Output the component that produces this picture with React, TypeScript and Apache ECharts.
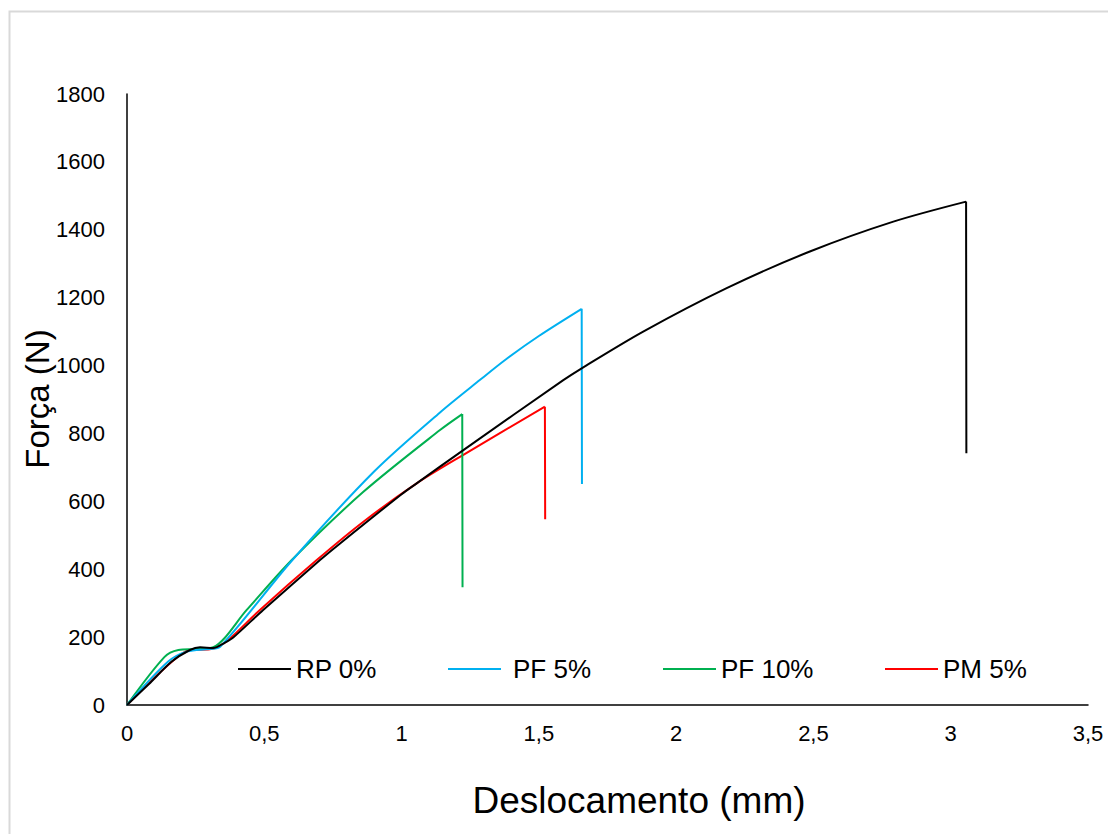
import React, { useEffect, useRef } from "react";
import * as echarts from "echarts";

// RP 0% (black) — last point is the fracture drop
const rpX = [0, 0.08, 0.163, 0.229, 0.266, 0.314, 0.357, 0.387, 0.496, 0.703, 0.776, 1.0, 1.055, 1.225, 1.589, 1.656, 1.88, 2.184, 2.487, 2.791, 3.056, 3.057];
const rpY = [0, 62, 128, 162, 170, 168, 184, 199, 280, 427, 476, 621, 653, 751, 957, 992, 1100, 1228, 1336, 1424, 1483, 742];
// PF 5% (cyan)
const pf5X = [0, 0.15, 0.22, 0.3, 0.34, 0.6, 0.9, 1.14, 1.286, 1.383, 1.5, 1.656, 1.657];
const pf5Y = [0, 128, 158, 165, 172, 425, 688, 862, 958, 1020, 1087, 1167, 651];
// PF 10% (green)
const pf10X = [0, 0.136, 0.187, 0.25, 0.314, 0.436, 0.6, 0.861, 1.14, 1.221, 1.222];
const pf10Y = [0, 141, 162, 165, 170, 280, 427, 628, 810, 857, 347];
// PM 5% (red)
const pm5X = [0, 0.157, 0.229, 0.302, 0.333, 0.375, 0.484, 0.691, 0.861, 1.055, 1.225, 1.522, 1.523];
const pm5Y = [0, 123, 162, 164, 172, 196, 280, 427, 540, 653, 737, 879, 547];

const seriesNames = ["RP 0%", "PF 5%", "PF 10%", "PM 5%"];
const seriesColors = ["#000000", "#00b0f0", "#00b050", "#ff0000"];
const xTickLabels = ["0", "0,5", "1", "1,5", "2", "2,5", "3", "3,5"];
const yTickLabels = ["0", "200", "400", "600", "800", "1000", "1200", "1400", "1600", "1800"];

const FONT = "'Liberation Sans', Arial, sans-serif";

// smooth curve up to the peak, then a break, then a straight vertical drop
function build(xs: number[], ys: number[]) {
  const n = xs.length;
  const pts: any[] = [];
  for (let i = 0; i < n - 1; i++) pts.push([xs[i], ys[i]]);
  pts.push([xs[n - 2], "-"]);
  pts.push([xs[n - 2], ys[n - 2]]);
  pts.push([xs[n - 1], ys[n - 1]]);
  return pts;
}

export default function App() {
  const ref = useRef<HTMLDivElement>(null);
  useEffect(() => {
    if (!ref.current) return;
    const chart = echarts.init(ref.current, null, { renderer: "svg" });
    const allX = [rpX, pf5X, pf10X, pm5X];
    const allY = [rpY, pf5Y, pf10Y, pm5Y];
    const legendLefts = [238, 448, 663, 885];
    const legendPad = [0, 7, 0, 0];
    chart.setOption({
      animation: false,
      backgroundColor: "#ffffff",
      grid: { left: 127, right: 20, top: 94, bottom: 129, containLabel: false },
      xAxis: {
        type: "value",
        min: 0,
        max: 3.5,
        interval: 0.5,
        axisLine: { show: true, lineStyle: { color: "#000", width: 1.5 } },
        axisTick: { show: false },
        splitLine: { show: false },
        axisLabel: {
          color: "#000",
          fontSize: 22,
          fontFamily: FONT,
          margin: 17,
          formatter: (v: number) => xTickLabels[Math.round(v / 0.5)] ?? String(v),
        },
      },
      yAxis: {
        type: "value",
        min: 0,
        max: 1800,
        interval: 200,
        axisLine: { show: true, lineStyle: { color: "#000", width: 1.5 } },
        axisTick: { show: false },
        splitLine: { show: false },
        axisLabel: {
          color: "#000",
          fontSize: 22,
          fontFamily: FONT,
          margin: 22,
          formatter: (v: number) => yTickLabels[Math.round(v / 200)] ?? String(v),
        },
      },
      legend: seriesNames.map((n, i) => ({
        data: [{ name: n, icon: "rect" }],
        left: legendLefts[i],
        top: 656,
        padding: 0,
        itemWidth: 53,
        itemHeight: 2,
        textStyle: { color: "#000", fontSize: 26, fontFamily: FONT, padding: [0, 0, 0, legendPad[i]] },
      })),
      series: seriesNames.map((n, i) => ({
        name: n,
        type: "line",
        data: build(allX[i], allY[i]),
        symbol: "none",
        showSymbol: false,
        smooth: 0.3,
        connectNulls: false,
        lineStyle: { color: seriesColors[i], width: 2 },
        itemStyle: { color: seriesColors[i] },
        z: 4 - i,
      })),
      graphic: [
        {
          type: "rect",
          shape: { x: 9.5, y: 11.5, width: 1200, height: 900 },
          style: { fill: "none", stroke: "#d9d9d9", lineWidth: 2 },
          silent: true,
        },
        {
          type: "text",
          x: 37,
          y: 399,
          rotation: Math.PI / 2,
          style: {
            text: "Força (N)",
            fontSize: 33,
            fontFamily: FONT,
            fill: "#000",
            align: "center",
            verticalAlign: "middle",
          },
        },
        {
          type: "text",
          x: 639,
          y: 800,
          style: {
            text: "Deslocamento (mm)",
            fontSize: 37,
            fontFamily: FONT,
            fill: "#000",
            align: "center",
            verticalAlign: "middle",
          },
        },
      ],
    });
    return () => chart.dispose();
  }, []);
  return (
    <div
      ref={ref}
      style={{ position: "fixed", left: 0, top: 0, width: 1108, height: 834 }}
    />
  );
}
